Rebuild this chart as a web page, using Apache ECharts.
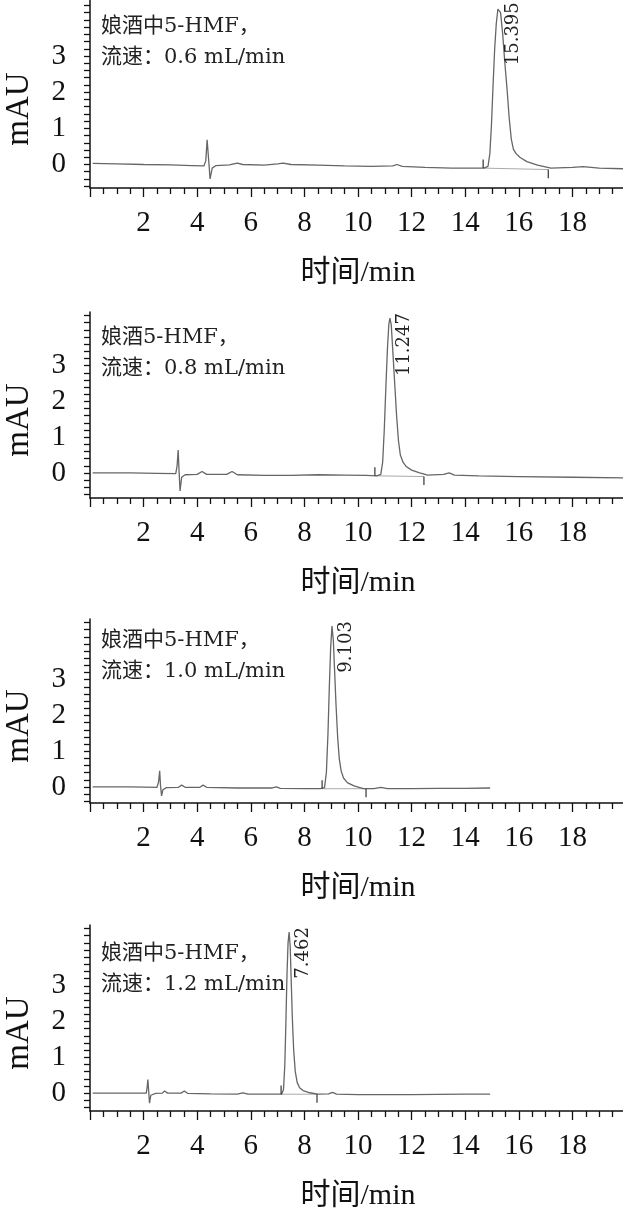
<!DOCTYPE html>
<html>
<head>
<meta charset="utf-8">
<script src="https://cdn.jsdelivr.net/npm/echarts@6.0.0/dist/echarts.min.js"></script>
<style>
  html, body { margin: 0; padding: 0; background: #fff; }
  #chart { width: 623px; height: 1219px; }
</style>
</head>
<body>
<div id="chart"></div>
<script>
// tick labels
const xTickLabels = [2, 4, 6, 8, 10, 12, 14, 16, 18];
const yTickLabels = [0, 1, 2, 3];

const panelTitles = [
  '娘酒中5-HMF，\n流速：0.6 mL/min',
  '娘酒5-HMF，\n流速：0.8 mL/min',
  '娘酒中5-HMF，\n流速：1.0 mL/min',
  '娘酒中5-HMF，\n流速：1.2 mL/min'
];
const peakLabels = ['15.395', '11.247', '9.103', '7.462'];

// chromatograms [time (min), mAU]
const trace06 = [
  [0.1, 0.03], [1, 0.02], [2, 0.0], [3, -0.01], [3.8, -0.03], [4.25, -0.04], [4.32, 0.1], [4.37, 0.68],
  [4.42, 0.2], [4.48, -0.4], [4.56, -0.1], [4.7, -0.03], [5.2, -0.01], [5.5, 0.04], [5.7, 0.0],
  [6.5, -0.02], [7.0, 0.02], [7.2, 0.04], [7.5, 0.0], [8.5, -0.02], [9.5, -0.04], [10.5, -0.05],
  [11.3, -0.04], [11.45, 0.0], [11.65, -0.05], [12.5, -0.08], [13.5, -0.1], [14.3, -0.1], [14.7, -0.1],
  [14.85, -0.05], [14.92, 0.3], [14.98, 1.1], [15.04, 2.2], [15.1, 3.2], [15.16, 3.9], [15.22, 4.3],
  [15.27, 4.35], [15.32, 4.2], [15.4, 3.6], [15.48, 2.8], [15.56, 2.1], [15.64, 1.3], [15.72, 0.7],
  [15.8, 0.42], [15.9, 0.3], [16.04, 0.2], [16.3, 0.08], [16.7, -0.02], [17.2, -0.1], [18, -0.08],
  [18.4, -0.06], [19, -0.1], [20, -0.12]
];
const trace08 = [
  [0.1, 0.0], [1.5, 0.0], [2.5, -0.01], [3.2, -0.02], [3.25, 0.2], [3.29, 0.64], [3.32, 0.1],
  [3.36, -0.5], [3.42, -0.12], [3.55, -0.05], [4.0, -0.04], [4.18, 0.04], [4.35, -0.04], [5.1, -0.04],
  [5.3, 0.04], [5.5, -0.05], [6.5, -0.07], [7.5, -0.07], [8.5, -0.05], [9.5, -0.06], [10.3, -0.07],
  [10.7, -0.08], [10.85, -0.04], [10.92, 0.3], [10.98, 1.2], [11.04, 2.4], [11.1, 3.5], [11.15, 4.15],
  [11.19, 4.33], [11.24, 4.15], [11.3, 3.4], [11.37, 2.5], [11.44, 1.6], [11.51, 0.9], [11.58, 0.5],
  [11.68, 0.3], [11.8, 0.18], [12.0, 0.08], [12.3, 0.0], [12.6, -0.06], [13.2, -0.04], [13.4, 0.0],
  [13.6, -0.06], [14.5, -0.08], [16, -0.1], [18, -0.12], [20, -0.14]
];
const trace10 = [
  [0.1, 0.0], [1.5, 0.0], [2.5, -0.01], [2.56, 0.15], [2.6, 0.45], [2.63, 0.05], [2.67, -0.25],
  [2.72, -0.08], [2.85, -0.02], [3.3, -0.01], [3.42, 0.05], [3.55, -0.01], [4.1, -0.01], [4.22, 0.05],
  [4.35, -0.01], [5.5, -0.03], [6.8, -0.03], [6.95, 0.0], [7.1, -0.04], [8.0, -0.05], [8.6, -0.05],
  [8.75, -0.02], [8.82, 0.4], [8.88, 1.5], [8.93, 2.8], [8.98, 3.9], [9.03, 4.5], [9.08, 4.1],
  [9.13, 3.2], [9.18, 2.3], [9.24, 1.4], [9.3, 0.8], [9.37, 0.45], [9.46, 0.25], [9.6, 0.12],
  [9.85, 0.03], [10.2, -0.05], [10.6, -0.05], [10.85, -0.01], [11.1, -0.05], [12, -0.05], [13, -0.04],
  [14, -0.04], [14.93, -0.03]
];
const trace12 = [
  [0.1, 0.0], [1.5, 0.0], [2.1, 0.0], [2.13, 0.15], [2.16, 0.38], [2.19, 0.05], [2.22, -0.28],
  [2.27, -0.06], [2.45, -0.01], [2.7, 0.0], [2.78, 0.06], [2.9, 0.0], [3.4, 0.0], [3.52, 0.06],
  [3.65, -0.01], [4.5, -0.02], [5.5, -0.03], [5.7, 0.01], [5.9, -0.03], [6.8, -0.03], [7.15, -0.03],
  [7.22, 0.1], [7.27, 0.8], [7.31, 2.0], [7.35, 3.3], [7.39, 4.2], [7.43, 4.5], [7.47, 4.1],
  [7.51, 3.1], [7.55, 2.1], [7.6, 1.2], [7.66, 0.6], [7.73, 0.3], [7.82, 0.15], [7.95, 0.07],
  [8.2, 0.01], [8.5, -0.03], [8.9, -0.02], [9.05, 0.02], [9.2, -0.03], [10, -0.04], [12, -0.04],
  [14, -0.03], [14.93, -0.03]
];
const traces = [trace06, trace08, trace10, trace12];

// integration start / end marks
const peakStart = [14.67, 10.63, 8.66, 7.13];
const peakEnd = [17.1, 12.46, 10.3, 8.47];
const baseAtStart = [-0.1, -0.08, -0.05, -0.03];
const baseAtEnd = [-0.14, -0.1, -0.05, -0.03];
const markLen = 0.24;

const layout = [
  { top: 0, height: 188, yMin: -0.65, yMax: 4.55, titleTop: 6 },
  { top: 312, height: 186, yMin: -0.7, yMax: 4.5, titleTop: 317 },
  { top: 619, height: 184, yMin: -0.45, yMax: 4.7, titleTop: 620 },
  { top: 925, height: 186, yMin: -0.5, yMax: 4.7, titleTop: 933 }
];

const serif = "'Liberation Serif', 'Noto Sans CJK SC', serif";
const wideSerif = "'DejaVu Serif', 'Noto Sans CJK SC', serif";

function yTicks(min, max) {
  const out = [];
  for (let k = Math.ceil(min / 0.2); k * 0.2 <= max; k++) out.push(Math.round(k * 20) / 100);
  return out;
}

const chart = echarts.init(document.getElementById('chart'));

const grid = [], xAxis = [], yAxis = [], series = [], title = [];

layout.forEach((p, i) => {
  grid.push({ left: 90, width: 536, top: p.top, height: p.height, outerBoundsMode: 'none', containLabel: false });
  title.push({
    text: panelTitles[i], left: 96, top: p.titleTop,
    textStyle: { fontFamily: wideSerif, fontSize: 21, lineHeight: 31, fontWeight: 'normal', color: '#222' }
  });
  xAxis.push({
    type: 'value', gridIndex: i, min: 0, max: 20, interval: 2,
    name: '时间/min', nameLocation: 'middle', nameGap: 70,
    nameTextStyle: { fontFamily: serif, fontSize: 30, color: '#111' },
    axisLine: { onZero: false, lineStyle: { color: '#111', width: 1.5 } },
    axisTick: { length: 9, lineStyle: { color: '#111', width: 1.3 } },
    minorTick: { show: true, splitNumber: 4, length: 6, lineStyle: { color: '#111', width: 1.3 } },
    axisLabel: { customValues: xTickLabels, margin: 21, fontFamily: serif, fontSize: 29, color: '#111' },
    splitLine: { show: false }
  });
  yAxis.push({
    type: 'value', gridIndex: i, min: p.yMin, max: p.yMax,
    name: 'mAU', nameLocation: 'middle', nameGap: 54, nameRotate: 90,
    nameTextStyle: { fontFamily: serif, fontSize: 33, color: '#111', padding: [0, 30, 0, 0] },
    axisLine: { onZero: false, lineStyle: { color: '#111', width: 1.5 } },
    axisTick: { customValues: yTicks(p.yMin, p.yMax), length: 6, lineStyle: { color: '#111', width: 1.3 } },
    axisLabel: { customValues: yTickLabels, margin: 24, fontFamily: serif, fontSize: 29, color: '#111' },
    splitLine: { show: false }
  });

  const tr = traces[i];
  let apex = tr[0];
  tr.forEach(d => { if (d[1] > apex[1]) apex = d; });

  series.push({
    type: 'line', xAxisIndex: i, yAxisIndex: i, data: tr, symbol: 'none',
    lineStyle: { color: '#666', width: 1.3 }, z: 3,
    markPoint: {
      symbol: 'circle', symbolSize: 1, itemStyle: { color: 'rgba(0,0,0,0)' },
      data: [{ coord: apex, value: peakLabels[i] }],
      label: {
        show: true, formatter: peakLabels[i], rotate: 90, position: 'inside',
        align: 'right', verticalAlign: 'middle', offset: [5, 14],
        fontFamily: wideSerif, fontSize: 18, color: '#222'
      }
    }
  });
  series.push({
    type: 'line', xAxisIndex: i, yAxisIndex: i, symbol: 'none', z: 2,
    data: [[peakStart[i], baseAtStart[i]], [peakEnd[i], baseAtEnd[i]]],
    lineStyle: { color: '#aaa', width: 1 }
  });
  series.push({
    type: 'line', xAxisIndex: i, yAxisIndex: i, symbol: 'none', z: 3,
    data: [[peakStart[i], baseAtStart[i]], [peakStart[i], baseAtStart[i] + markLen]],
    lineStyle: { color: '#333', width: 1.2 }
  });
  series.push({
    type: 'line', xAxisIndex: i, yAxisIndex: i, symbol: 'none', z: 3,
    data: [[peakEnd[i], baseAtEnd[i]], [peakEnd[i], baseAtEnd[i] - markLen]],
    lineStyle: { color: '#333', width: 1.2 }
  });
});

chart.setOption({
  animation: false,
  backgroundColor: '#fff',
  title, grid, xAxis, yAxis, series
});
</script>
</body>
</html>
